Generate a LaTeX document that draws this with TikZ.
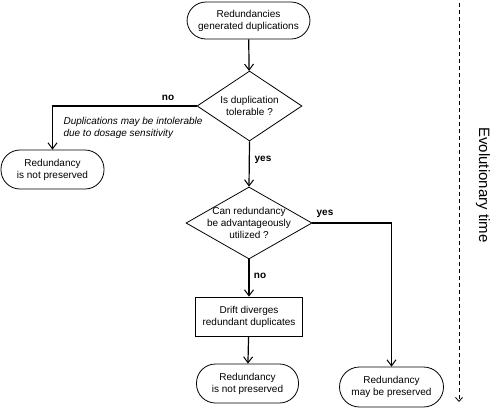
\documentclass[tikz,border=0pt]{standalone}
\usepackage{fontspec}
\setmainfont{Liberation Sans}
\usepackage{tikz}
\usetikzlibrary{arrows.meta,shapes.geometric,positioning,calc}

\begin{document}
\begin{tikzpicture}[x=1pt,y=-1pt,font=\fontsize{10}{12}\selectfont,
  term/.style={draw,line width=0.8pt,rounded corners=19pt,minimum width=104pt,minimum height=39pt,align=center,inner sep=0pt},
  proc/.style={draw,line width=0.8pt,minimum width=107pt,minimum height=39pt,align=center,inner sep=0pt},
  decision/.style={draw,line width=0.8pt,diamond,inner sep=0pt},
  flow/.style={line width=1.2pt,-{Straight Barb[length=6pt,width=9pt,line width=1pt]}},
  answer/.style={font=\fontsize{10}{12}\selectfont\bfseries}]
\useasboundingbox (0,0) rectangle (494,408);
\node[term,minimum width=123pt,minimum height=37pt] (start) at (248.5,20.5) {Redundancies\\generated duplications};
\node[decision,minimum width=105pt,minimum height=70pt] (tol) at (249.5,106) {};
\node[align=center] (toltext) at (tol) {Is duplication\\tolerable ?};
\node[term,minimum width=103pt] (lost1) at (52.5,169.5) {Redundancy\\is not preserved};
\node[decision,minimum width=126pt,minimum height=72pt] (util) at (249,223) {};
\node[align=center] (utiltext) at (util) {Can redundancy\\be advantageously\\utilized ?};
\node[proc] (drift) at (249,316.5) {Drift diverges\\redundant duplicates};
\node[term,minimum width=102pt] (lost2) at (247.5,383.5) {Redundancy\\is not preserved};
\node[term,minimum width=104pt,minimum height=40pt,rounded corners=20pt] (kept) at (391.5,387) {Redundancy\\may be preserved};
% connectors
\draw[flow] (start) -- (tol);
\draw[flow] (tol.west) -| (lost1.north);
\draw[flow] (tol.south) -- (util.north);
\draw[flow] (util.east) -| (kept.north);
\draw[flow] (util.south) -- (drift.north);
\draw[flow] (drift) -- (lost2);
% labels
\node[answer] (no1) at (168,98) {no};
\node[align=left,font=\fontsize{10}{12}\selectfont\itshape,anchor=north west] (dosage) at (60,114) {Duplications may be intolerable\\due to dosage sensitivity};
\node[answer] (yes1) at (263,160) {yes};
\node[answer] (yes2) at (325,214) {yes};
\node[answer] (no2) at (260,276) {no};
% time axis
\coordinate (t0) at (459,3);
\coordinate (t1) at (459,402);
\draw[dashed,line width=0.8pt,dash pattern=on 4pt off 3pt,-{Straight Barb[length=4pt,width=7pt]}] (t0) -- (t1);
\node[rotate=-90,font=\fontsize{15}{18}\selectfont] (time) at (483,185) {Evolutionary time};
\end{tikzpicture}
\end{document}
